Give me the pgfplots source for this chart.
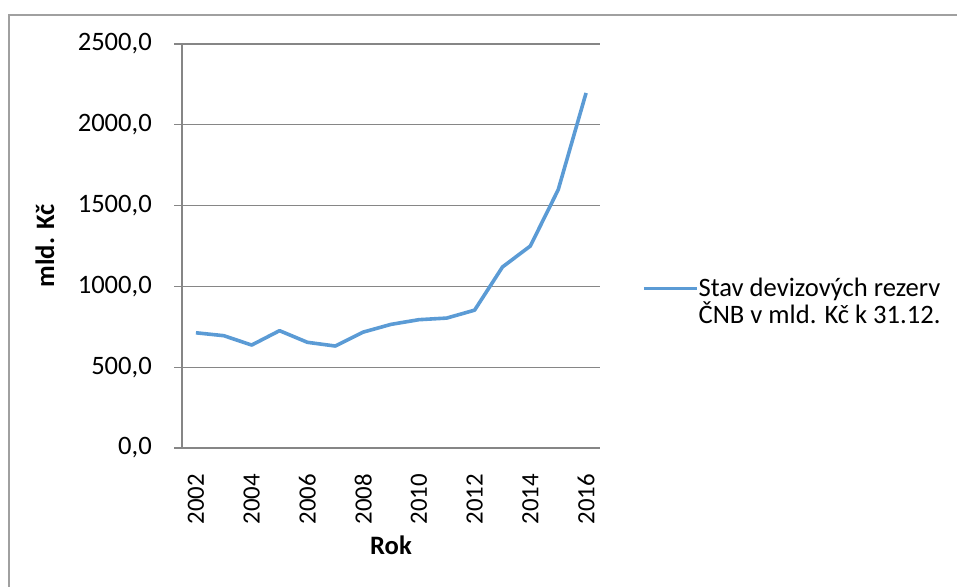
\documentclass[border=0pt]{standalone}
\usepackage{fontspec}
\setmainfont{Carlito}
\usepackage{pgfplots}
\pgfplotsset{compat=1.18}

\definecolor{serieblue}{RGB}{91,155,213}
\definecolor{gridgray}{RGB}{134,134,134}
\definecolor{framegray}{RGB}{160,160,160}

\newcommand{\chartfont}{\fontsize{26.6}{27}\selectfont}

% Foreign reserves of the Czech National Bank, bn CZK at year end
\pgfplotstableread{
rok  rezervy
2002 713
2003 695
2004 637
2005 726
2006 654
2007 631
2008 717
2009 765
2010 794
2011 804
2012 853
2013 1120
2014 1250
2015 1598
2016 2197
}\rezervy

\begin{document}
\begin{tikzpicture}[font=\chartfont]
\begin{axis}[
  at={(0pt,0pt)}, anchor=south west,
  scale only axis,
  width=418pt, height=404pt,
  xmin=2001.5, xmax=2016.5,
  ymin=0, ymax=2500,
  xtick={2002,2004,...,2016},
  ytick={0,500,...,2500},
  axis x line*=bottom,
  axis y line*=left,
  axis line style={gridgray, line width=1.2pt},
  ymajorgrids,
  major grid style={gridgray, line width=1.2pt},
  tick align=outside,
  major tick length=8pt,
  tick style={gridgray, line width=1.2pt},
  xtick style={draw=none},
  /pgf/number format/assume math mode=true,
  /pgf/number format/1000 sep={},
  yticklabel style={
    /pgf/number format/fixed,
    /pgf/number format/fixed zerofill,
    /pgf/number format/precision=1,
    /pgf/number format/use comma,
    /pgf/number format/1000 sep={},
    inner sep=0pt, anchor=east, xshift=-22pt},
  xticklabel style={yshift=-18pt, rotate=90, anchor=east, inner sep=0pt,
    font=\fontsize{24.8}{27}\selectfont},
  every axis y label/.style={at={(axis description cs:-0.3278,0.5)}, rotate=90, anchor=center, font=\chartfont\bfseries},
  every axis x label/.style={at={(axis description cs:0.5,-0.240)}, anchor=center, font=\chartfont\bfseries},
  ylabel={mld. Kč},
  xlabel={Rok},
  legend style={at={(axis description cs:1.1005,0.363)}, anchor=west,
    draw=none, fill=none, inner sep=0pt, outer sep=0pt,
    nodes={inner sep=0pt}, cells={anchor=west, align=left},
    column sep=0pt},
  legend image code/.code={\draw[#1, line cap=butt] (0pt,13pt) -- (53pt,13pt);},
]
\addplot[serieblue, line width=3.6pt, line join=round] table[x=rok, y=rezervy] {\rezervy};
\addlegendentry{{Stav devizových rezerv\\ČNB v mld. Kč k 31.12.}}
\end{axis}
% chart area frame
\draw[framegray, line width=1.2pt] (-173pt,-140pt) -- (-173pt,433pt) -- (780pt,433pt);
\pgfresetboundingbox
\path[use as bounding box] (-182pt,-138pt) rectangle (775pt,448pt);
\end{tikzpicture}
\end{document}
